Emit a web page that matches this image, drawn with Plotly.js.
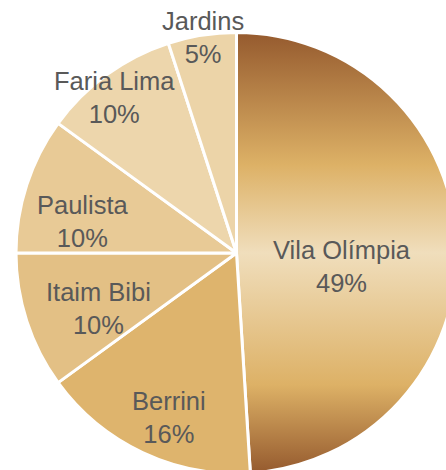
<!DOCTYPE html>
<html>
<head>
<meta charset="utf-8">
<script src="https://cdn.plot.ly/plotly-3.0.1.min.js"></script>
<style>
html, body { margin: 0; padding: 0; overflow: hidden; background: #fff; width: 446px; height: 470px; }
#chart { width: 472px; height: 506px; }
</style>
</head>
<body>
<div id="chart"></div>
<script>
// ---- data ----
const labels = ["Vila Olímpia", "Berrini", "Itaim Bibi", "Paulista", "Faria Lima", "Jardins"];
const values = [49, 16, 10, 10, 10, 5];

// ---- styles / layout constants ----
const colors = ["#DCB06A", "#DEB46D", "#E3C085", "#E8CA96", "#EDD6AC", "#ECD4A8"];
const W = 472, H = 506;
const CX = 236.5, CY = 253, R = 220.5;
// label placement: radial fraction and angle nudge (deg)
const labelR = [0.48, 0.805, 0.675, 0.712, 0.895, 0.99];
const labelDA = [9, -3, -4, -6.6, -2.2, 0.3];

const total = values.reduce((a, b) => a + b, 0);
let cum = 0;
const annotations = values.map((v, i) => {
  const mid = (cum + v / 2) / total * 360 + labelDA[i];
  cum += v;
  const a = mid * Math.PI / 180;
  const px = CX + R * labelR[i] * Math.sin(a);
  const py = CY - R * labelR[i] * Math.cos(a);
  const pct = Math.round(v / total * 100) + "%";
  return {
    x: px / W, y: 1 - py / H, xref: "paper", yref: "paper",
    xanchor: "center", yanchor: "middle", showarrow: false,
    text: labels[i] + "<br>" + pct, align: "center",
    font: { family: "Liberation Sans, Arial, sans-serif", size: 25.5, color: "#595959" }
  };
});

const trace = {
  type: "pie",
  labels: labels,
  values: values,
  sort: false,
  direction: "clockwise",
  rotation: 0,
  textinfo: "none",
  hoverinfo: "skip",
  marker: { colors: colors, line: { color: "#FFFFFF", width: 3 } },
  domain: { x: [(CX - R) / W, (CX + R) / W], y: [1 - (CY + R) / H, 1 - (CY - R) / H] },
  showlegend: false
};

const layout = {
  width: W, height: H,
  margin: { l: 0, r: 0, t: 0, b: 0 },
  paper_bgcolor: "#FFFFFF",
  plot_bgcolor: "#FFFFFF",
  showlegend: false,
  annotations: annotations
};

Plotly.newPlot("chart", [trace], layout, { staticPlot: true, displayModeBar: false }).then(gd => {
  const svg = gd.querySelector("svg.main-svg");
  const NS = "http://www.w3.org/2000/svg";
  let defs = svg.querySelector("defs");
  if (!defs) { defs = document.createElementNS(NS, "defs"); svg.insertBefore(defs, svg.firstChild); }
  const g = document.createElementNS(NS, "linearGradient");
  g.setAttribute("id", "vilaGrad");
  g.setAttribute("x1", "0"); g.setAttribute("y1", "0");
  g.setAttribute("x2", "0"); g.setAttribute("y2", "1");
  [[0, "#955A2E"], [0.3, "#DDB166"], [0.5, "#F0DEBC"], [0.8, "#DDB166"], [1, "#955A2E"]].forEach(([o, c]) => {
    const s = document.createElementNS(NS, "stop");
    s.setAttribute("offset", o);
    s.setAttribute("stop-color", c);
    g.appendChild(s);
  });
  defs.appendChild(g);
  const first = gd.querySelector(".slice path.surface");
  if (first) first.style.fill = "url(#vilaGrad)";
});
</script>
</body>
</html>
